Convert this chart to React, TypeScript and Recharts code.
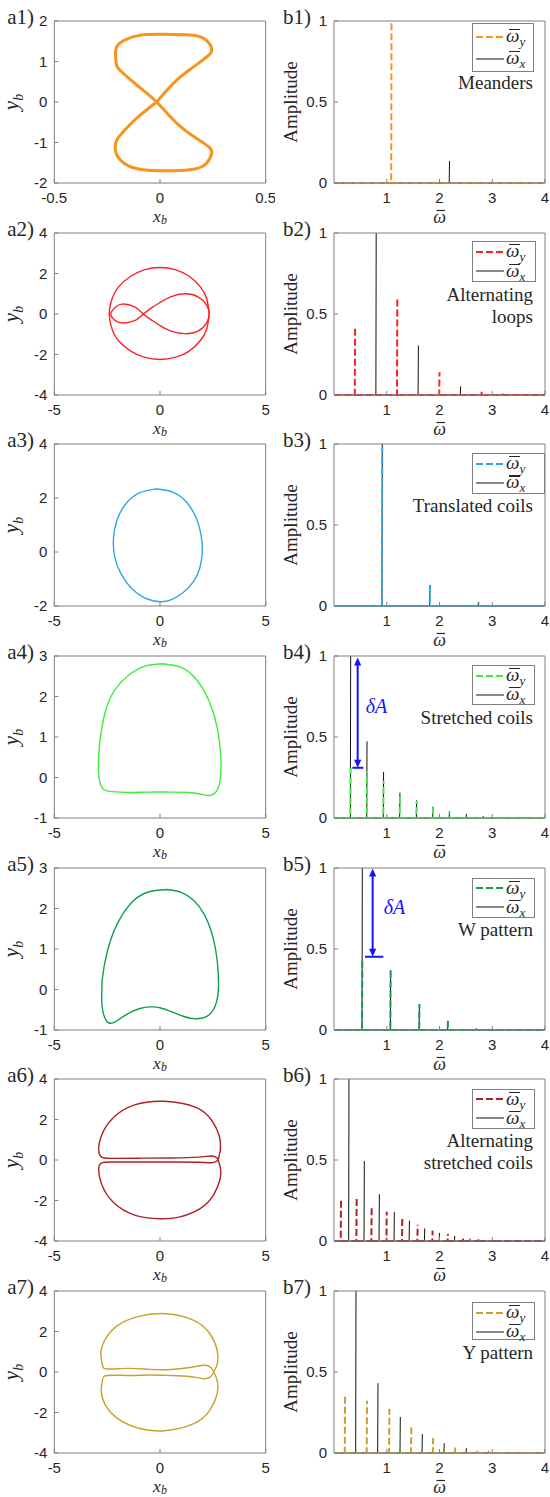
import React from 'react';
import { LineChart, Line, XAxis, YAxis, ReferenceLine, Legend } from 'recharts';

const SERIF = '"Liberation Serif", "Times New Roman", serif';
const SANS = '"Liberation Sans", Arial, Helvetica, sans-serif';
const AXIS_C = '#808080';
const TEXT_C = '#262626';
const BLACK = '#111111';
const BLUE = '#1414ff';
const OMEGA = '\u03C9';

const C1 = '#f7941e';
const C2 = '#ff2020';
const C3 = '#29aae1';
const C4 = '#3ced3c';
const C5 = '#10a04c';
const C6 = '#ad2227';
const C7 = '#caa02b';

// ---------------- tick labels ----------------
const xTicksA1 = [-0.5, 0, 0.5];
const xTicksA = [-5, 0, 5];
const yTicksA1 = [-2, -1, 0, 1, 2];
const yTicksA4 = [-4, -2, 0, 2, 4];
const yTicksA3 = [-2, 0, 2, 4];
const yTicksA45 = [-1, 0, 1, 2, 3];
const xTicksB = [1, 2, 3, 4];
const yTicksB = [0, 0.5, 1];

// ---------------- trajectories (x_b, y_b) ----------------
const a1Path: [number, number][] = [
  [-0.016, 0], [0.079, 0.54], [0.17, 0.91], [0.22, 1.11], [0.245, 1.28], [0.22, 1.52], [0.158, 1.65],
  [0.03, 1.67], [-0.095, 1.65], [-0.17, 1.52], [-0.208, 1.32], [-0.208, 0.99], [-0.19, 0.79],
  [-0.11, 0.42], [-0.016, 0], [0.079, -0.52], [0.17, -0.89], [0.229, -1.1], [0.245, -1.26],
  [0.22, -1.51], [0.158, -1.66], [0.03, -1.7], [-0.095, -1.66], [-0.17, -1.51], [-0.208, -1.26],
  [-0.208, -0.98], [-0.18, -0.77], [-0.11, -0.4], [-0.016, 0],
];
const a2Circle: [number, number][] = [
  [2.33, 0], [2.2, 0.8], [1.9, 1.35], [1.4, 1.85], [0.75, 2.18], [0, 2.3], [-0.75, 2.18], [-1.4, 1.85],
  [-1.95, 1.35], [-2.25, 0.8], [-2.4, 0], [-2.25, -0.8], [-1.95, -1.33], [-1.4, -1.82], [-0.75, -2.13],
  [0, -2.25], [0.75, -2.13], [1.4, -1.82], [1.9, -1.32], [2.2, -0.78], [2.33, 0],
];
const a2Loop: [number, number][] = [
  [-0.79, 0], [-0.4, 0.3], [0, 0.57], [0.5, 0.85], [1.18, 1.0], [1.8, 0.85], [2.2, 0.45], [2.33, 0],
  [2.2, -0.45], [1.8, -0.85], [1.18, -0.97], [0.5, -0.83], [0, -0.57], [-0.4, -0.3], [-0.79, 0],
  [-1.2, 0.35], [-1.81, 0.49], [-2.15, 0.3], [-2.33, 0], [-2.15, -0.3], [-1.81, -0.44], [-1.2, -0.33],
  [-0.79, 0],
];
const a3Path: [number, number][] = [
  [-0.2, 2.34], [0.6, 2.22], [1.25, 1.85], [1.72, 1.25], [1.95, 0.6], [2.0, 0.0], [1.88, -0.6],
  [1.58, -1.1], [1.1, -1.5], [0.55, -1.76], [0.05, -1.84], [-0.6, -1.74], [-1.3, -1.38], [-1.85, -0.8],
  [-2.15, -0.15], [-2.2, 0.5], [-2.05, 1.15], [-1.65, 1.75], [-1.0, 2.18], [-0.2, 2.34],
];
const a4Path: [number, number][] = [
  [0.1, 2.81], [1.0, 2.72], [1.75, 2.4], [2.35, 1.85], [2.72, 1.2], [2.88, 0.5], [2.86, 0.0],
  [2.72, -0.3], [2.4, -0.44], [2.0, -0.42], [1.4, -0.37], [0.5, -0.36], [-0.5, -0.36], [-1.5, -0.37],
  [-2.3, -0.35], [-2.72, -0.27], [-2.9, 0.1], [-2.86, 0.8], [-2.6, 1.6], [-2.15, 2.15], [-1.5, 2.52],
  [-0.7, 2.75], [0.1, 2.81],
];
const a5Path: [number, number][] = [
  [0.32, 2.47], [1.0, 2.4], [1.6, 2.2], [2.1, 1.85], [2.5, 1.3], [2.72, 0.65], [2.76, 0.0],
  [2.6, -0.42], [2.2, -0.67], [1.6, -0.72], [1.1, -0.66], [0.6, -0.56], [0.0, -0.45], [-0.45, -0.43],
  [-0.95, -0.47], [-1.6, -0.62], [-2.2, -0.82], [-2.55, -0.76], [-2.74, -0.42], [-2.75, 0.0],
  [-2.72, 0.3], [-2.52, 0.88], [-2.05, 1.59], [-1.26, 2.19], [-0.47, 2.42], [0.32, 2.47],
];
const a6Path: [number, number][] = [
  [2.75, 0.0], [2.86, 0.55], [2.8, 1.2], [2.45, 1.95], [1.7, 2.6], [0.2, 2.9], [-1.2, 2.72],
  [-2.2, 2.1], [-2.75, 1.25], [-2.9, 0.5], [-2.76, 0.14], [-2.3, 0.08], [-1.0, 0.09], [0.5, 0.1],
  [1.8, 0.14], [2.4, 0.2], [2.65, 0.14], [2.75, 0.0], [2.86, -0.4], [2.85, -0.9], [2.55, -1.7],
  [1.9, -2.4], [0.9, -2.82], [0.0, -2.9], [-1.2, -2.72], [-2.2, -2.1], [-2.72, -1.3], [-2.9, -0.5],
  [-2.78, -0.15], [-2.3, -0.1], [-1.0, -0.1], [0.5, -0.1], [1.8, -0.11], [2.5, -0.13], [2.75, 0.0],
];
const a7Path: [number, number][] = [
  [2.55, 0.0], [2.72, 0.45], [2.7, 1.1], [2.35, 1.9], [1.6, 2.55], [0.3, 2.88], [-1.0, 2.75],
  [-2.0, 2.3], [-2.6, 1.6], [-2.8, 0.9], [-2.72, 0.35], [-2.5, 0.15], [-1.5, 0.18], [-0.5, 0.13],
  [0.5, 0.12], [1.4, 0.22], [2.1, 0.33], [2.4, 0.22], [2.55, 0.0], [2.72, -0.5], [2.7, -1.1],
  [2.35, -1.9], [1.6, -2.55], [0.2, -2.9], [-1.0, -2.78], [-2.0, -2.3], [-2.6, -1.6], [-2.78, -0.9],
  [-2.72, -0.4], [-2.5, -0.17], [-1.5, -0.17], [-0.5, -0.15], [0.5, -0.17], [1.4, -0.22],
  [2.1, -0.33], [2.4, -0.22], [2.55, 0.0],
];

// ---------------- spectra: peak frequencies and amplitudes ----------------
const b1FreqY = [1.09];
const b1AmpY = [1.0];
const b1FreqX = [2.19];
const b1AmpX = [0.135];

const b2FreqY = [0.4, 1.2, 2.0, 2.8];
const b2AmpY = [0.41, 0.605, 0.14, 0.02];
const b2FreqX = [0.8, 1.6, 2.4, 3.2];
const b2AmpX = [1.0, 0.305, 0.053, 0.01];

const b3FreqY = [0.915, 1.82, 2.74];
const b3AmpY = [1.0, 0.13, 0.025];
const b3FreqX = [0.915, 1.82, 2.74];
const b3AmpX = [1.0, 0.13, 0.025];

const b4FreqY = [0.316, 0.626, 0.94, 1.25, 1.567, 1.877, 2.19, 2.51, 2.83, 3.15];
const b4AmpY = [0.31, 0.29, 0.23, 0.15, 0.106, 0.065, 0.04, 0.02, 0.01, 0.005];
const b4FreqX = [0.316, 0.626, 0.94, 1.25, 1.567, 1.877, 2.19, 2.51, 2.83, 3.15];
const b4AmpX = [1.0, 0.473, 0.284, 0.157, 0.11, 0.07, 0.043, 0.025, 0.012, 0.006];

const b5FreqY = [0.537, 1.074, 1.62, 2.16, 2.7, 3.24];
const b5AmpY = [0.43, 0.37, 0.16, 0.055, 0.012, 0.004];
const b5FreqX = [0.537, 1.074, 1.62, 2.16, 2.7, 3.24];
const b5AmpX = [1.0, 0.37, 0.158, 0.057, 0.01, 0.003];

const b6FreqY = [0.133, 0.43, 0.714, 1.0, 1.295, 1.586, 1.87, 2.16, 2.45, 2.74, 3.03];
const b6AmpY = [0.262, 0.262, 0.207, 0.18, 0.14, 0.1, 0.064, 0.043, 0.02, 0.01, 0.005];
const b6FreqX = [0.284, 0.575, 0.86, 1.144, 1.43, 1.72, 2.0, 2.29, 2.58, 2.87];
const b6AmpX = [1.0, 0.494, 0.289, 0.18, 0.125, 0.078, 0.05, 0.032, 0.015, 0.007];

const b7FreqY = [0.21, 0.626, 1.05, 1.466, 1.88, 2.3, 2.72, 3.13];
const b7AmpY = [0.353, 0.322, 0.273, 0.164, 0.092, 0.039, 0.015, 0.005];
const b7FreqX = [0.417, 0.834, 1.257, 1.675, 2.09, 2.51, 2.93, 3.35];
const b7AmpX = [1.0, 0.431, 0.222, 0.117, 0.06, 0.03, 0.01, 0.004];

// delta-A annotations: [x, yTop, yBottom, barX1, barX2]
const b4Delta = [0.449, 0.99, 0.31, 0.348, 0.556];
const b5Delta = [0.733, 0.997, 0.452, 0.588, 0.935];

// ---------------- helpers ----------------
type Pt = { x: number; y: number | null };
const toPts = (p: [number, number][]): Pt[] => p.map(([x, y]) => ({ x, y }));

const SPIKE_HALF = 0.006;
function spikes(freqs: number[], amps: number[]): Pt[] {
  const out: Pt[] = [{ x: 0, y: 0 }];
  freqs.forEach((f, i) => {
    out.push({ x: f - SPIKE_HALF, y: 0 });
    out.push({ x: f, y: amps[i] });
    out.push({ x: f, y: null });
    out.push({ x: f + SPIKE_HALF, y: 0 });
  });
  out.push({ x: 4, y: 0 });
  return out;
}

const ROW_STEP = 211.67;
const PLOT_H = 162;
const CHART_W = 275;
const CHART_H = 250;
const TL = 4;

function tickFor(side: 'b' | 't' | 'l' | 'r', label: boolean) {
  return (props: any) => {
    const { x, y, payload } = props;
    const v = payload ? payload.value : '';
    if (side === 'b') {
      return (
        <g>
          <line x1={x} y1={y} x2={x} y2={y - TL} stroke={AXIS_C} strokeWidth={1} />
          {label && (
            <text x={x} y={y + 20} textAnchor="middle" fontFamily={SANS} fontSize={15} fill={TEXT_C}>
              {String(v)}
            </text>
          )}
        </g>
      );
    }
    if (side === 't') return <line x1={x} y1={y} x2={x} y2={y + TL} stroke={AXIS_C} strokeWidth={1} />;
    if (side === 'l') {
      return (
        <g>
          <line x1={x} y1={y} x2={x + TL} y2={y} stroke={AXIS_C} strokeWidth={1} />
          {label && (
            <text x={x - 7} y={y + 5.4} textAnchor="end" fontFamily={SANS} fontSize={15} fill={TEXT_C}>
              {String(v)}
            </text>
          )}
        </g>
      );
    }
    return <line x1={x} y1={y} x2={x - TL} y2={y} stroke={AXIS_C} strokeWidth={1} />;
  };
}

const xLabelFn = (kind: 'xb' | 'omega') => (props: any) => {
  const vb = props.viewBox || {};
  const cx = (vb.x ?? 0) + (vb.width ?? 0) / 2;
  const y0 = vb.y ?? 0;
  if (kind === 'xb') {
    return (
      <text x={cx} y={y0 + 39} textAnchor="middle" fontFamily={SERIF} fill={TEXT_C}>
        <tspan fontStyle="italic" fontSize={17.5}>x</tspan>
        <tspan fontStyle="italic" fontSize={12} dy={2}>b</tspan>
      </text>
    );
  }
  const by = y0 + 39.5;
  return (
    <g>
      <text x={cx} y={by} textAnchor="middle" fontFamily={SERIF} fill={TEXT_C} fontStyle="italic" fontSize={18}>
        {OMEGA}
      </text>
      <line x1={cx - 3} y1={by - 12} x2={cx + 5.5} y2={by - 12} stroke={TEXT_C} strokeWidth={1.2} />
    </g>
  );
};

const yLabelFn = (kind: 'yb' | 'amp') => (props: any) => {
  const vb = props.viewBox || {};
  const cx = (vb.x ?? 0) + (vb.width ?? 0) - 36;
  const cy = (vb.y ?? 0) + (vb.height ?? 0) / 2;
  if (kind === 'yb') {
    return (
      <text x={cx} y={cy} textAnchor="middle" fontFamily={SERIF} fill={TEXT_C} transform={`rotate(-90, ${cx}, ${cy})`}>
        <tspan fontStyle="italic" fontSize={21}>y</tspan>
        <tspan fontStyle="italic" fontSize={14} dy={5}>b</tspan>
      </text>
    );
  }
  return (
    <text x={cx - 1} y={cy} textAnchor="middle" fontFamily={SERIF} fontSize={19} fill={TEXT_C} transform={`rotate(-90, ${cx - 1}, ${cy})`}>
      Amplitude
    </text>
  );
};

const tagFn = (tag: string, col: number) => (props: any) => {
  const vb = props.viewBox || {};
  const py = (vb.y ?? 0) + (vb.height ?? 0);
  return (
    <text x={(vb.x ?? 0) - (col === 0 ? 47 : 51)} y={py + 3} fontFamily={SERIF} fontSize={21} fill={TEXT_C}>
      {tag}
    </text>
  );
};

const ArrowShape = (props: any) => {
  const { x1, y1, x2, y2 } = props;
  const top = Math.min(y1, y2);
  const bot = Math.max(y1, y2);
  const x = x1;
  const h = 8;
  const w = 3.6;
  return (
    <g>
      <line x1={x} y1={top + h - 1} x2={x} y2={bot - h + 1} stroke={BLUE} strokeWidth={2} />
      <polygon points={`${x},${top} ${x - w},${top + h} ${x + w},${top + h}`} fill={BLUE} />
      <polygon points={`${x},${bot} ${x - w},${bot - h} ${x + w},${bot - h}`} fill={BLUE} />
    </g>
  );
};

const deltaLabel = (dx: number, frac: number) => (props: any) => {
  const vb = props.viewBox || {};
  return (
    <text
      x={(vb.x ?? 0) + (vb.width ?? 0) + dx}
      y={(vb.y ?? 0) + (vb.height ?? 0) * frac + 7}
      fill={BLUE}
      fontFamily={SERIF}
      fontStyle="italic"
      fontSize={20}
    >
      δA
    </text>
  );
};

type SeriesDef = { key: string; data: Pt[]; color: string; width: number; dash?: string; curve: 'natural' | 'linear' };
type LegendDef = { color: string; dash: string; boxTop: number; boxH: number; boxW: number; notes: string[] };
type PanelDef = {
  col: number;
  row: number;
  xDomain: [number, number];
  xTicks: number[];
  yDomain: [number, number];
  yTicks: number[];
  series: SeriesDef[];
  tag: string;
  xLabel: 'xb' | 'omega';
  yLabel: 'yb' | 'amp';
  legend?: LegendDef;
  delta?: number[];
};

function OmegaBar({ sub }: { sub: string }) {
  return (
    <span style={{ fontFamily: SERIF, fontStyle: 'italic', fontSize: 19, color: TEXT_C, lineHeight: '19px', whiteSpace: 'nowrap' }}>
      <span style={{ position: 'relative', display: 'inline-block' }}>
        {OMEGA}
        <span
          style={{ position: 'absolute', left: 2.5, right: -1, top: 3, height: 1.2, background: TEXT_C, display: 'block' }}
        />
      </span>
      <span style={{ fontSize: 13, position: 'relative', top: 4 }}>{sub}</span>
    </span>
  );
}

function LegendRow({ color, dash, sub }: { color: string; dash?: string; sub: string }) {
  return (
    <div style={{ display: 'flex', alignItems: 'center', height: 19, whiteSpace: 'nowrap' }}>
      <svg width={31} height={6} style={{ marginLeft: 2, flex: 'none' }}>
        <line x1={1} y1={3} x2={29} y2={3} stroke={color} strokeWidth={dash ? 2 : 1} strokeDasharray={dash} />
      </svg>
      <OmegaBar sub={sub} />
    </div>
  );
}

function LegendContent({ def }: { def: LegendDef }) {
  return (
    <div style={{ position: 'relative', width: CHART_W, height: CHART_H, pointerEvents: 'none' }}>
      <div
        style={{
          position: 'absolute',
          left: 197,
          top: def.boxTop,
          width: def.boxW,
          height: def.boxH,
          border: `1px solid ${AXIS_C}`,
          background: '#fff',
          boxSizing: 'border-box',
          display: 'flex',
          flexDirection: 'column',
          justifyContent: 'space-evenly',
        }}
      >
        <LegendRow color={def.color} dash={def.dash} sub="y" />
        <LegendRow color={BLACK} sub="x" />
      </div>
      <div
        style={{
          position: 'absolute',
          right: 17,
          top: 72,
          textAlign: 'right',
          fontFamily: SERIF,
          fontSize: 19,
          lineHeight: '22px',
          color: TEXT_C,
          whiteSpace: 'nowrap',
        }}
      >
        {def.notes.map((n) => (
          <div key={n}>{n}</div>
        ))}
      </div>
    </div>
  );
}

function Panel({ p }: { p: PanelDef }) {
  const plotW = p.col === 0 ? 211.4 : 211;
  const mLeft = p.col === 0 ? 54.3 : 59;
  // axes take 1px each, so margins are reduced by 1
  const margin = {
    top: 20,
    left: mLeft - 1,
    right: CHART_W - mLeft - plotW - 1,
    bottom: CHART_H - 21 - PLOT_H - 1,
  };
  const axisCommon = {
    allowDataOverflow: false,
    interval: 0 as const,
    tickSize: 0,
    tickMargin: 0,
    tickLine: false,
    axisLine: { stroke: AXIS_C, strokeWidth: 1 },
  };
  return (
    <div style={{ position: 'absolute', left: p.col * 275, top: p.row * ROW_STEP, width: CHART_W, height: CHART_H }}>
      <LineChart width={CHART_W} height={CHART_H} margin={margin}>
        <XAxis xAxisId="b" orientation="bottom" type="number" dataKey="x" domain={p.xDomain} ticks={p.xTicks} height={1} tick={tickFor('b', true)} label={xLabelFn(p.xLabel)} {...axisCommon} />
        <XAxis xAxisId="t" orientation="top" type="number" dataKey="x" domain={p.xDomain} ticks={p.xTicks} height={1} tick={tickFor('t', false)} label={tagFn(p.tag, p.col)} {...axisCommon} />
        <YAxis yAxisId="l" orientation="left" type="number" domain={p.yDomain} ticks={p.yTicks} width={1} tick={tickFor('l', true)} label={yLabelFn(p.yLabel)} {...axisCommon} />
        <YAxis yAxisId="r" orientation="right" type="number" domain={p.yDomain} ticks={p.yTicks} width={1} tick={tickFor('r', false)} {...axisCommon} />
        {p.series.map((s) => (
          <Line
            key={s.key}
            name={s.key}
            xAxisId="b"
            yAxisId="l"
            data={s.data}
            dataKey="y"
            type={s.curve}
            stroke={s.color}
            strokeWidth={s.width}
            strokeDasharray={s.dash}
            dot={false}
            activeDot={false}
            connectNulls={false}
            isAnimationActive={false}
          />
        ))}
        {p.legend && (
          <Legend
            layout="horizontal"
            verticalAlign="middle"
            align="center"
            wrapperStyle={{ left: 0, top: 0, width: CHART_W, height: CHART_H, margin: 0 }}
            content={() => <LegendContent def={p.legend as LegendDef} />}
          />
        )}
        {p.delta && (
          <ReferenceLine
            xAxisId="b"
            yAxisId="l"
            ifOverflow="visible"
            segment={[{ x: p.delta[0], y: p.delta[1] }, { x: p.delta[0], y: p.delta[2] }]}
            stroke={BLUE}
            shape={ArrowShape}
            label={deltaLabel(p.row === 3 ? 8 : 11, 0.44)}
          />
        )}
        {p.delta && (
          <ReferenceLine
            xAxisId="b"
            yAxisId="l"
            ifOverflow="visible"
            segment={[{ x: p.delta[3], y: p.delta[2] }, { x: p.delta[4], y: p.delta[2] }]}
            stroke={BLUE}
            strokeWidth={2}
          />
        )}
      </LineChart>
    </div>
  );
}

const traj = (key: string, path: [number, number][], color: string, width = 1.4): SeriesDef => ({
  key,
  data: toPts(path),
  color,
  width,
  curve: 'natural',
});
const specX = (f: number[], a: number[]): SeriesDef => ({ key: 'wx', data: spikes(f, a), color: BLACK, width: 1, curve: 'linear' });
const DASH = '7 3';
const specY = (f: number[], a: number[], color: string): SeriesDef => ({
  key: 'wy',
  data: spikes(f, a),
  color,
  width: 2,
  dash: DASH,
  curve: 'linear',
});

const panels: PanelDef[] = [
  { col: 0, row: 0, xDomain: [-0.5, 0.5], xTicks: xTicksA1, yDomain: [-2, 2], yTicks: yTicksA1, series: [traj('a1', a1Path, C1, 3)], tag: 'a1)', xLabel: 'xb', yLabel: 'yb' },
  { col: 0, row: 1, xDomain: [-5, 5], xTicks: xTicksA, yDomain: [-4, 4], yTicks: yTicksA4, series: [traj('a2c', a2Circle, C2), traj('a2l', a2Loop, C2)], tag: 'a2)', xLabel: 'xb', yLabel: 'yb' },
  { col: 0, row: 2, xDomain: [-5, 5], xTicks: xTicksA, yDomain: [-2, 4], yTicks: yTicksA3, series: [traj('a3', a3Path, C3)], tag: 'a3)', xLabel: 'xb', yLabel: 'yb' },
  { col: 0, row: 3, xDomain: [-5, 5], xTicks: xTicksA, yDomain: [-1, 3], yTicks: yTicksA45, series: [traj('a4', a4Path, C4)], tag: 'a4)', xLabel: 'xb', yLabel: 'yb' },
  { col: 0, row: 4, xDomain: [-5, 5], xTicks: xTicksA, yDomain: [-1, 3], yTicks: yTicksA45, series: [traj('a5', a5Path, C5)], tag: 'a5)', xLabel: 'xb', yLabel: 'yb' },
  { col: 0, row: 5, xDomain: [-5, 5], xTicks: xTicksA, yDomain: [-4, 4], yTicks: yTicksA4, series: [traj('a6', a6Path, C6)], tag: 'a6)', xLabel: 'xb', yLabel: 'yb' },
  { col: 0, row: 6, xDomain: [-5, 5], xTicks: xTicksA, yDomain: [-4, 4], yTicks: yTicksA4, series: [traj('a7', a7Path, C7)], tag: 'a7)', xLabel: 'xb', yLabel: 'yb' },

  { col: 1, row: 0, xDomain: [0, 4], xTicks: xTicksB, yDomain: [0, 1], yTicks: yTicksB, series: [specX(b1FreqX, b1AmpX), specY(b1FreqY, b1AmpY, C1)], tag: 'b1)', xLabel: 'omega', yLabel: 'amp', legend: { color: C1, dash: DASH, boxTop: 23, boxH: 49, boxW: 62, notes: ['Meanders'] } },
  { col: 1, row: 1, xDomain: [0, 4], xTicks: xTicksB, yDomain: [0, 1], yTicks: yTicksB, series: [specX(b2FreqX, b2AmpX), specY(b2FreqY, b2AmpY, C2)], tag: 'b2)', xLabel: 'omega', yLabel: 'amp', legend: { color: C2, dash: DASH, boxTop: 29.3, boxH: 41, boxW: 64, notes: ['Alternating', 'loops'] } },
  { col: 1, row: 2, xDomain: [0, 4], xTicks: xTicksB, yDomain: [0, 1], yTicks: yTicksB, series: [specX(b3FreqX, b3AmpX), specY(b3FreqY, b3AmpY, C3)], tag: 'b3)', xLabel: 'omega', yLabel: 'amp', legend: { color: C3, dash: DASH, boxTop: 29.4, boxH: 41, boxW: 73, notes: ['Translated coils'] } },
  { col: 1, row: 3, xDomain: [0, 4], xTicks: xTicksB, yDomain: [0, 1], yTicks: yTicksB, series: [specX(b4FreqX, b4AmpX), specY(b4FreqY, b4AmpY, C4)], tag: 'b4)', xLabel: 'omega', yLabel: 'amp', legend: { color: C4, dash: DASH, boxTop: 30, boxH: 40, boxW: 63, notes: ['Stretched coils'] }, delta: b4Delta },
  { col: 1, row: 4, xDomain: [0, 4], xTicks: xTicksB, yDomain: [0, 1], yTicks: yTicksB, series: [specX(b5FreqX, b5AmpX), specY(b5FreqY, b5AmpY, C5)], tag: 'b5)', xLabel: 'omega', yLabel: 'amp', legend: { color: C5, dash: DASH, boxTop: 31.3, boxH: 40, boxW: 63, notes: ['W pattern'] }, delta: b5Delta },
  { col: 1, row: 5, xDomain: [0, 4], xTicks: xTicksB, yDomain: [0, 1], yTicks: yTicksB, series: [specX(b6FreqX, b6AmpX), specY(b6FreqY, b6AmpY, C6)], tag: 'b6)', xLabel: 'omega', yLabel: 'amp', legend: { color: C6, dash: DASH, boxTop: 30.5, boxH: 40, boxW: 63, notes: ['Alternating', 'stretched coils'] } },
  { col: 1, row: 6, xDomain: [0, 4], xTicks: xTicksB, yDomain: [0, 1], yTicks: yTicksB, series: [specX(b7FreqX, b7AmpX), specY(b7FreqY, b7AmpY, C7)], tag: 'b7)', xLabel: 'omega', yLabel: 'amp', legend: { color: C7, dash: DASH, boxTop: 32, boxH: 38, boxW: 63, notes: ['Y pattern'] } },
];

export default function App() {
  return (
    <div style={{ position: 'absolute', left: 0, top: 0, width: 550, height: 1497, overflow: 'hidden', background: '#fff' }}>
      {panels.map((p) => (
        <Panel key={p.tag} p={p} />
      ))}
    </div>
  );
}
